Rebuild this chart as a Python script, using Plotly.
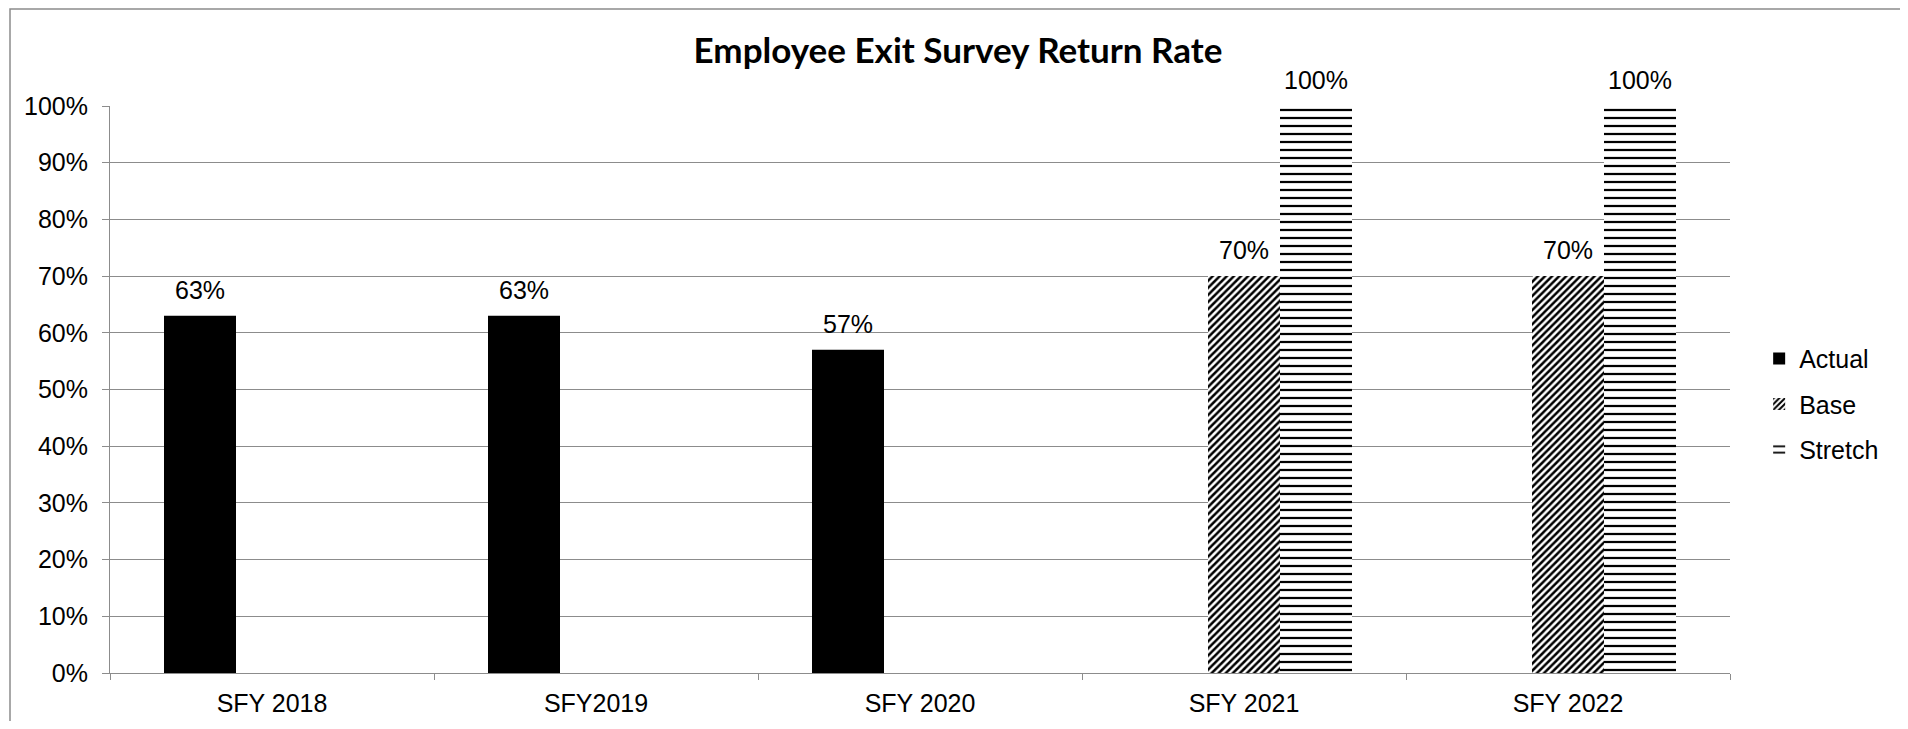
import plotly.graph_objects as go

categories = ["SFY 2018", "SFY2019", "SFY 2020", "SFY 2021", "SFY 2022"]
actual = [0.63, 0.63, 0.57, None, None]
base = [None, None, None, 0.70, 0.70]
stretch = [None, None, None, 1.00, 1.00]
y_ticks = [0, 0.1, 0.2, 0.3, 0.4, 0.5, 0.6, 0.7, 0.8, 0.9, 1.0]

FONT = "Arial, 'Liberation Sans', sans-serif"
GRID = "#8c8c8c"
FS = 25

W, H = 1900, 713
L, R, T, B = 102, 178, 98, 48
PW, PH = W - L - R, H - T - B
BARGAP = 1/3

fig = go.Figure()
fig.add_trace(go.Bar(
    name="Actual", x=categories, y=actual, marker=dict(color="black", line=dict(width=0)),
    legendgroup="a",
))
fig.add_trace(go.Bar(
    name="Base", x=categories, y=base,
    marker=dict(color="white", line=dict(width=0),
                pattern=dict(shape="/", fgcolor="black", bgcolor="white", size=5, solidity=0.5, fillmode="replace")),
    legendgroup="b",
))
fig.add_trace(go.Bar(
    name="Stretch", x=categories, y=stretch,
    marker=dict(color="white", line=dict(width=0),
                pattern=dict(shape="-", fgcolor="black", bgcolor="white", size=8, solidity=0.28, fillmode="replace")),
    legendgroup="c",
))

# data labels above bars, offset to each bar's slot within its group
bar_px = PW / len(categories) * (1 - BARGAP) / 3
for k, series in enumerate([actual, base, stretch]):
    for cat, v in zip(categories, series):
        if v is None:
            continue
        fig.add_annotation(x=cat, y=v, xref="x", yref="y", text=f"{v:.0%}", showarrow=False,
                           xanchor="center", yanchor="bottom", xshift=(k - 1) * bar_px, yshift=10,
                           font=dict(family=FONT, size=FS, color="black"))

fig.update_layout(
    width=W, height=H,
    margin=dict(l=L, r=R, t=T, b=B, autoexpand=False),
    paper_bgcolor="white", plot_bgcolor="white",
    barmode="group", bargap=BARGAP, bargroupgap=0,
    title=dict(text="<b>Employee Exit Survey Return Rate</b>", x=0.5, xref="container", xanchor="center",
               y=1 - 43/H, yref="container", yanchor="middle",
               font=dict(family="Lato, 'Open Sans', sans-serif", size=35, color="black")),
    font=dict(family=FONT, size=FS, color="black"),
    legend=dict(x=1.018, xanchor="left", y=0.474, yanchor="middle", font=dict(family=FONT, size=FS, color="black"),
                tracegroupgap=10, bgcolor="rgba(0,0,0,0)"),
    showlegend=True,
)
fig.update_yaxes(
    range=[0, 1], tickvals=y_ticks, tickformat=".0%", automargin=False,
    showgrid=True, gridcolor=GRID, gridwidth=1,
    showline=True, linecolor=GRID, linewidth=1,
    ticks="outside", ticklen=7, tickcolor=GRID, ticklabelstandoff=9,
    tickfont=dict(family=FONT, size=FS, color="black"), zeroline=False,
)
fig.update_xaxes(
    showline=True, linecolor=GRID, linewidth=1, automargin=False,
    ticks="outside", ticklen=6, tickcolor=GRID, tickson="boundaries",
    tickfont=dict(family=FONT, size=FS, color="black"), ticklabelstandoff=8,
)
fig.add_shape(type="rect", xref="paper", yref="paper",
              x0=(2 - L) / PW, x1=(1895 - L) / PW, y0=(PH + T - (H + 20)) / PH, y1=(PH + T - 1) / PH,
              line=dict(color="#8c8c8c", width=1.5), fillcolor="rgba(0,0,0,0)", layer="below")

fig.write_html("out.html")
